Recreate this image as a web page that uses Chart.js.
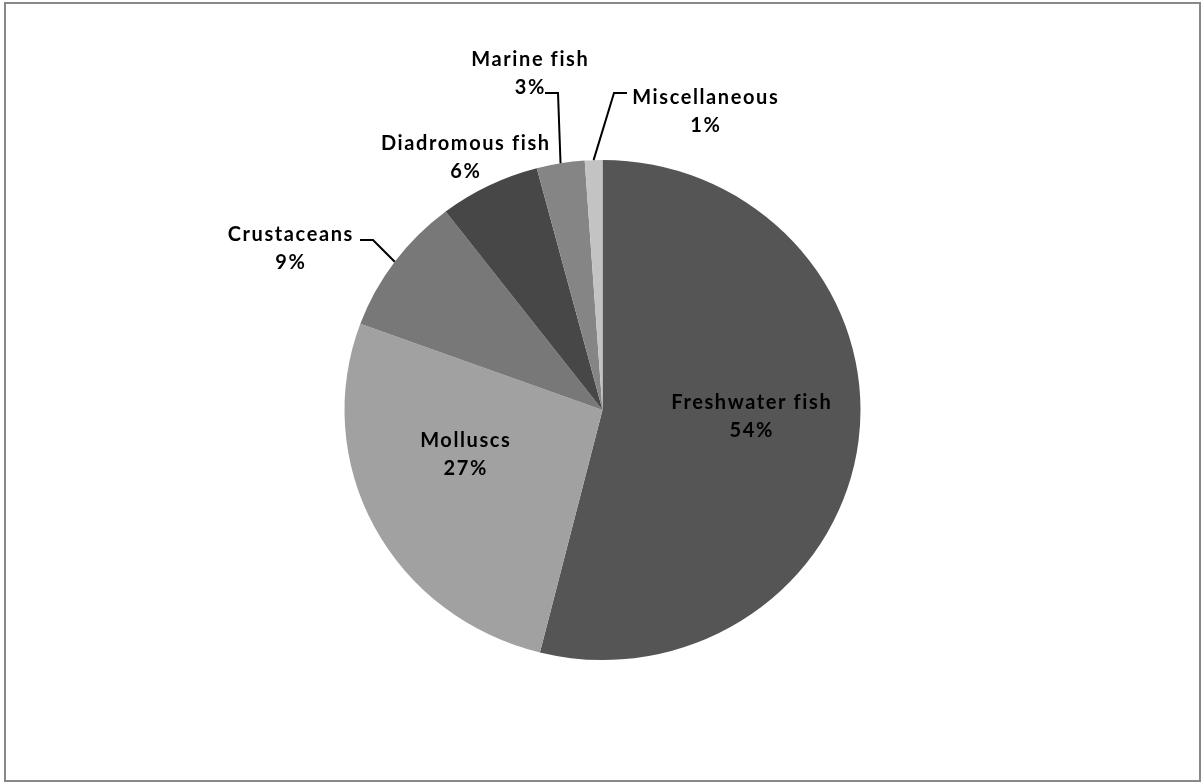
<!DOCTYPE html>
<html>
<head>
<meta charset="utf-8">
<script src="https://cdn.jsdelivr.net/npm/chart.js@4.4.0/dist/chart.umd.min.js"></script>
<style>
    html, body { margin: 0; padding: 0; background: #fff; }
    #frame {
        position: absolute; left: 4px; top: 2px; width: 1197px; height: 780px;
        box-sizing: border-box; border: 2.5px solid #888;
    }
    #pie { position: absolute; left: 0; top: 0; }
</style>
</head>
<body>
<div id="frame"></div>
<canvas id="pie" width="1201" height="782"></canvas>
<script>
const categories = ['Freshwater fish', 'Molluscs', 'Crustaceans', 'Diadromous fish', 'Marine fish', 'Miscellaneous']
const shares = [53.9, 26.7, 9.0, 6.3, 3.0, 1.1]
const sliceColors = ['#555555', '#a1a1a1', '#787878', '#474747', '#858585', '#c3c3c3']

// label layout, offsets from pie centre in units of radius
const labelPlace = [[0.594, 0.026], [-0.55, 0.18], [-1.25, -0.644], [-0.55, -1.008], [-0.292, -1.344], [0.41, -1.192]]
// leader start relative to label centre (px), null = no leader
const leaderStart = [null, null, [70, -9], null, [15.5, 19], [-78, -19]]

const stretchX = 1.032

const ellipsePlugin = {
    id: 'ellipse',
    beforeDatasetsDraw(chart) {
        const arc = chart.getDatasetMeta(0).data[0]
        const ctx = chart.ctx
        ctx.save()
        ctx.translate(arc.x, 0)
        ctx.scale(stretchX, 1)
        ctx.translate(-arc.x, 0)
    },
    afterDatasetsDraw(chart) {
        chart.ctx.restore()
    }
}

const labelPlugin = {
    id: 'sliceLabels',
    afterDraw(chart) {
        const ctx = chart.ctx
        const arcs = chart.getDatasetMeta(0).data
        ctx.save()
        ctx.fillStyle = '#000'
        ctx.strokeStyle = '#000'
        ctx.lineWidth = 2
        ctx.font = 'bold 20px Lato'
        ctx.letterSpacing = '1.6px'
        ctx.textAlign = 'center'
        ctx.textBaseline = 'middle'
        arcs.forEach((arc, i) => {
            const r = arc.outerRadius
            const lx = arc.x + labelPlace[i][0] * r
            const ly = arc.y + labelPlace[i][1] * r
            ctx.fillText(categories[i], lx + 0.8, ly - 14)
            ctx.fillText(Math.round(shares[i]) + '%', lx + 0.8, ly + 14)
            if (leaderStart[i]) {
                const mid = (arc.startAngle + arc.endAngle) / 2
                const ex = arc.x + Math.cos(mid) * r * stretchX
                const ey = arc.y + Math.sin(mid) * r
                const sx = lx + leaderStart[i][0]
                const sy = ly + leaderStart[i][1]
                const dir = ex > sx ? 1 : -1
                ctx.beginPath()
                ctx.moveTo(sx, sy)
                ctx.lineTo(sx + dir * 13, sy)
                ctx.lineTo(ex, ey)
                ctx.stroke()
            }
        })
        ctx.restore()
    }
}

new Chart('pie', {
    type: 'pie',
    data: {
        labels: categories,
        datasets: [{
            data: shares,
            backgroundColor: sliceColors,
            borderWidth: 0
        }]
    },
    options: {
        responsive: false,
        animation: false,
        devicePixelRatio: 1,
        layout: { padding: { top: 160, bottom: 122, left: 352, right: 348 } },
        plugins: {
            legend: { display: false },
            tooltip: { enabled: false }
        }
    },
    plugins: [ellipsePlugin, labelPlugin]
})
</script>
</body>
</html>
